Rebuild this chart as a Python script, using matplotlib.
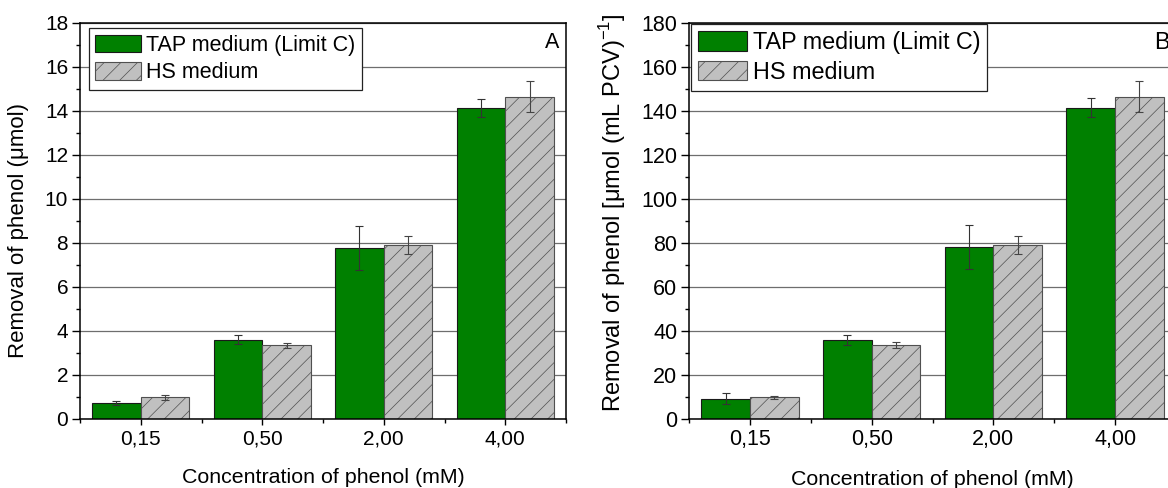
import numpy as np
import matplotlib
matplotlib.use("Agg")
import matplotlib.pyplot as plt
from matplotlib.ticker import MultipleLocator
from matplotlib.patches import Patch

plt.rcParams["font.family"] = ["Liberation Sans", "DejaVu Sans"]
plt.rcParams["mathtext.fontset"] = "custom"
plt.rcParams["mathtext.rm"] = "Liberation Sans"
plt.rcParams["hatch.linewidth"] = 0.5
plt.rcParams["hatch.color"] = "#505050"

# ---------- data ----------
concentrations = ["0,15", "0,50", "2,00", "4,00"]
series_names = ["TAP medium (Limit C)", "HS medium"]

# panel A: removal of phenol (umol)
tap_umol = [0.72, 3.60, 7.79, 14.15]
tap_umol_err = [0.08, 0.20, 1.00, 0.40]
hs_umol = [0.98, 3.35, 7.90, 14.65]
hs_umol_err = [0.10, 0.10, 0.40, 0.70]

# panel B: removal per packed cell volume
tap_pcv = [9.3, 36.0, 78.0, 141.5]
tap_pcv_err = [2.3, 2.2, 10.0, 4.3]
hs_pcv = [9.8, 33.5, 79.0, 146.5]
hs_pcv_err = [0.6, 1.3, 4.2, 7.0]

GREEN = "#008000"
GREY = "#c0c0c0"
BAR_W = 0.4


def draw_panel(ax, tap, tap_err, hs, hs_err, ymax, ystep, ylabel,
               letter, fs, leg_fs, lab_fs, leg_anchor):
    x = np.arange(1, len(concentrations) + 1)
    ax.set_axisbelow(True)
    ax.yaxis.grid(True, color="#6e6e6e", linewidth=0.9)

    ax.bar(x - BAR_W / 2, tap, BAR_W, color=GREEN, edgecolor="#1a1a1a",
           linewidth=0.8, zorder=2)
    ax.bar(x + BAR_W / 2, hs, BAR_W, color=GREY, edgecolor="#505050",
           hatch="//", linewidth=0.8, zorder=2)
    ax.errorbar(x - BAR_W / 2, tap, yerr=tap_err, fmt="none", ecolor="#333333",
                elinewidth=0.8, capsize=2.8, capthick=0.8, zorder=3)
    ax.errorbar(x + BAR_W / 2, hs, yerr=hs_err, fmt="none", ecolor="#444444",
                elinewidth=0.8, capsize=2.8, capthick=0.8, zorder=3)

    ax.set_xlim(0.5, 4.5)
    ax.set_ylim(0, ymax)
    ax.set_xticks(x)
    ax.set_xticklabels(concentrations)
    ax.xaxis.set_minor_locator(MultipleLocator(0.5))
    ax.yaxis.set_major_locator(MultipleLocator(ystep))
    ax.yaxis.set_minor_locator(MultipleLocator(ystep / 2))
    ax.tick_params(which="major", direction="out", length=4.5, width=1,
                   labelsize=fs, pad=3)
    ax.tick_params(which="minor", direction="out", length=3, width=1)
    ax.tick_params(axis="y", which="major", length=5.5)
    for sp in ax.spines.values():
        sp.set_linewidth(1.1)

    ax.set_xlabel("Concentration of phenol (mM)", fontsize=15.4, labelpad=14)
    ax.set_ylabel(ylabel, fontsize=lab_fs)

    ax.text(0.971, 0.952, letter, transform=ax.transAxes, fontsize=leg_fs,
            ha="center", va="center")

    handles = [
        Patch(facecolor=GREEN, edgecolor="#1a1a1a", linewidth=0.8),
        Patch(facecolor=GREY, edgecolor="#505050", hatch="//", linewidth=0.8),
    ]
    leg = ax.legend(handles, series_names, loc="upper left",
                    bbox_to_anchor=leg_anchor, borderaxespad=0,
                    fontsize=leg_fs, fancybox=False, framealpha=1,
                    handlelength=2.1, handleheight=0.9, handletextpad=0.25,
                    labelspacing=0.28, borderpad=0.3)
    leg.get_frame().set_edgecolor("#222222")
    leg.get_frame().set_linewidth(0.9)
    return ax


fig = plt.figure(figsize=(11.68, 4.88), dpi=100)
W, H = 1168.0, 488.0
ax_a = fig.add_axes([80 / W, 1 - 419 / H, 486 / W, 396 / H])
ax_b = fig.add_axes([689 / W, 1 - 419 / H, 487 / W, 396 / H])

draw_panel(ax_a, tap_umol, tap_umol_err, hs_umol, hs_umol_err, 18, 2,
           "Removal of phenol (\u03bcmol)", "A", 15, 15.5, 16,
           (0.0185, 0.987))
draw_panel(ax_b, tap_pcv, tap_pcv_err, hs_pcv, hs_pcv_err, 180, 20,
           "Removal of phenol [\u03bcmol (mL PCV)$^{\\mathregular{-1}}$]",
           "B", 15.5, 16.8, 17, (0.004, 0.9975))

ax_a.yaxis.set_label_coords(-0.104, 0.477)
ax_b.yaxis.set_label_coords(-0.126, 0.52)

fig.savefig("out.png", dpi=100)
